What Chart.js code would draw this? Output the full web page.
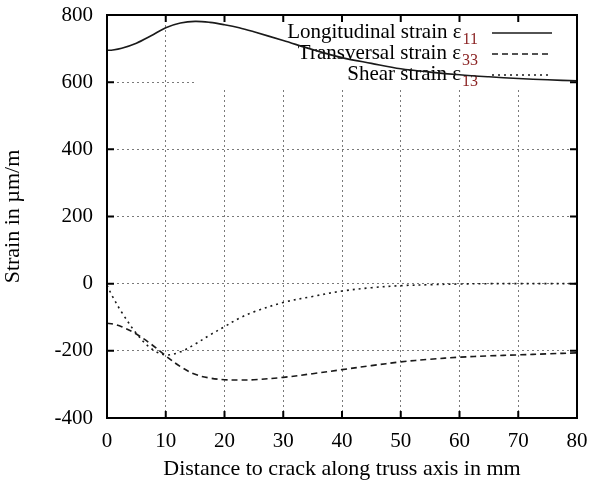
<!DOCTYPE html>
<html>
<head>
<meta charset="utf-8">
<title>Strain along truss axis</title>
<script src="https://cdn.jsdelivr.net/npm/chart.js@4.4.1/dist/chart.umd.min.js"></script>
<style>
    html, body { margin: 0; padding: 0; background: #ffffff; }
    #wrap { width: 592px; height: 486px; }
</style>
</head>
<body>
<div id="wrap"><canvas id="strain-chart"></canvas></div>
<script>
// Data (distance in mm, strain in µm/m)
const distances    = [0, 1, 2.5, 5, 7.5, 10, 12.5, 15, 17.5, 20, 22.5, 25, 30, 35, 40, 45, 50, 55, 60, 65, 70, 75, 80];
const longitudinal = [695, 696, 701, 716, 738, 762, 776, 781, 778, 771, 762, 750, 724, 697, 673, 656, 640, 630, 622, 616, 611, 607, 604];
const transversal  = [-118, -120, -128, -150, -180, -215, -247, -270, -281, -286, -287, -286, -279, -268, -256, -244, -233, -225, -219, -215, -212, -209, -206];
const shear        = [-5, -40, -85, -148, -193, -212, -203, -180, -153, -128, -103, -84, -56, -38, -22, -12, -6, -3, -1, 0, 0, 0, 0];

const xTicks = [0, 10, 20, 30, 40, 50, 60, 70, 80];
const yTicks = [-400, -200, 0, 200, 400, 600, 800];

const legendNames = ['Longitudinal strain ε', 'Transversal strain ε', 'Shear strain ε'];
const legendSubs  = ['11', '33', '13'];
const lineDashes  = [[], [6, 4], [2, 4]];

const serif = '"Liberation Serif", "Times New Roman", serif';
const ink = '#1a1a1a';

function toPoints(values) {
    return distances.map((d, i) => ({ x: d, y: values[i] }));
}

// Blank the grid behind the key, then draw the key itself (curves go on top)
const keyPlugin = {
    id: 'key',
    beforeDatasetsDraw(chart) {
        const ctx = chart.ctx;
        const a = chart.chartArea;
        ctx.save();
        ctx.fillStyle = '#ffffff';
        ctx.fillRect(197, a.top + 1, a.right - 197, 88 - a.top);

        const rightEdge = 478;
        legendNames.forEach((name, i) => {
            const base = 38 + i * 21;
            ctx.font = '16px ' + serif;
            const subW = ctx.measureText(legendSubs[i]).width;
            ctx.fillStyle = '#8b2323';
            ctx.textAlign = 'left';
            ctx.textBaseline = 'alphabetic';
            ctx.fillText(legendSubs[i], rightEdge - subW, base + 6);
            ctx.font = '21px ' + serif;
            ctx.fillStyle = '#000000';
            ctx.textAlign = 'right';
            ctx.fillText(name, rightEdge - subW - 1, base);

            ctx.strokeStyle = ink;
            ctx.lineWidth = 1.5;
            ctx.setLineDash(lineDashes[i]);
            ctx.beginPath();
            ctx.moveTo(492, base - 5);
            ctx.lineTo(552, base - 5);
            ctx.stroke();
        });
        ctx.restore();
    }
};

// gnuplot-style frame with inward ticks on all four sides
const framePlugin = {
    id: 'frame',
    afterDraw(chart) {
        const ctx = chart.ctx;
        const a = chart.chartArea;
        const x = chart.scales.x;
        const y = chart.scales.y;
        const len = 7;
        ctx.save();
        ctx.strokeStyle = '#000000';
        ctx.lineWidth = 2;
        ctx.setLineDash([]);
        ctx.strokeRect(a.left, a.top, a.right - a.left, a.bottom - a.top);
        ctx.beginPath();
        xTicks.forEach(v => {
            const px = x.getPixelForValue(v);
            ctx.moveTo(px, a.bottom); ctx.lineTo(px, a.bottom - len);
            ctx.moveTo(px, a.top);    ctx.lineTo(px, a.top + len);
        });
        yTicks.forEach(v => {
            const py = y.getPixelForValue(v);
            ctx.moveTo(a.left, py);  ctx.lineTo(a.left + len, py);
            ctx.moveTo(a.right, py); ctx.lineTo(a.right - len, py);
        });
        ctx.stroke();
        ctx.restore();
    }
};

function gridColor(edges) {
    return c => (c.tick && edges.includes(c.tick.value)) ? 'rgba(0,0,0,0)' : '#7a7a7a';
}

new Chart(document.getElementById('strain-chart'), {
    type: 'line',
    data: {
        datasets: [
            { label: legendNames[0] + legendSubs[0], data: toPoints(longitudinal), borderDash: lineDashes[0] },
            { label: legendNames[1] + legendSubs[1], data: toPoints(transversal), borderDash: lineDashes[1] },
            { label: legendNames[2] + legendSubs[2], data: toPoints(shear), borderDash: lineDashes[2] }
        ].map(ds => Object.assign(ds, {
            borderColor: ink,
            borderWidth: 1.6,
            pointRadius: 0,
            fill: false,
            tension: 0.35
        }))
    },
    options: {
        responsive: true,
        maintainAspectRatio: false,
        animation: false,
        layout: { padding: { top: 15, right: 15, left: 0, bottom: 0 } },
        plugins: {
            legend: { display: false },
            tooltip: { enabled: false }
        },
        scales: {
            x: {
                type: 'linear',
                min: 0,
                max: 80,
                afterFit(scale) {
                    scale.height = 68;
                    scale.paddingLeft = 0;
                    scale.paddingRight = 0;
                },
                ticks: { stepSize: 10, color: '#000', font: { family: serif, size: 21 }, padding: 11 },
                grid: { color: gridColor([0, 80]), lineWidth: 1, drawTicks: false },
                border: { display: false, dash: [2, 3] },
                title: {
                    display: true,
                    text: 'Distance to crack along truss axis in mm',
                    color: '#000',
                    font: { family: serif, size: 22 },
                    padding: { top: 0, bottom: 4 }
                }
            },
            y: {
                min: -400,
                max: 800,
                afterFit(scale) {
                    scale.width = 107;
                    scale.paddingTop = 0;
                    scale.paddingBottom = 0;
                },
                ticks: { stepSize: 200, color: '#000', font: { family: serif, size: 21 }, padding: 14 },
                grid: { color: gridColor([-400, 800]), lineWidth: 1, drawTicks: false },
                border: { display: false, dash: [2, 3] },
                title: {
                    display: true,
                    text: 'Strain in µm/m',
                    color: '#000',
                    font: { family: serif, size: 22 },
                    padding: { top: 0, bottom: 0 }
                }
            }
        }
    },
    plugins: [keyPlugin, framePlugin]
});
</script>
</body>
</html>
